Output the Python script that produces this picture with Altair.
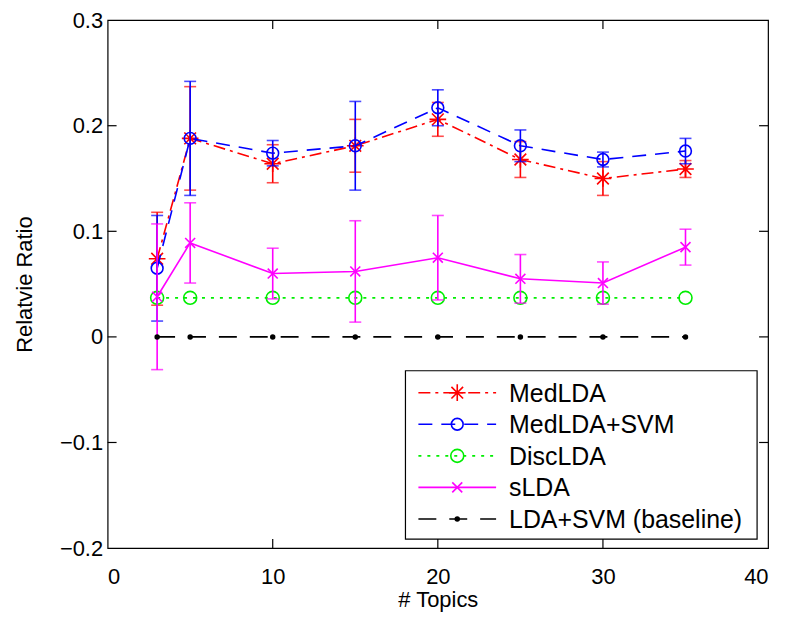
import altair as alt
import pandas as pd

topics = [3, 5, 10, 15, 20, 25, 30, 35]

medlda = [0.074, 0.188, 0.164, 0.181, 0.206, 0.168, 0.150, 0.159]
medlda_err = [0.044, 0.049, 0.018, 0.025, 0.016, 0.017, 0.016, 0.008]

medlda_svm = [0.065, 0.188, 0.174, 0.181, 0.217, 0.181, 0.168, 0.176]
medlda_svm_err = [0.050, 0.054, 0.012, 0.042, 0.017, 0.015, 0.007, 0.012]

disclda = [0.037, 0.037, 0.037, 0.037, 0.037, 0.037, 0.037, 0.037]

slda = [0.038, 0.089, 0.060, 0.062, 0.075, 0.055, 0.051, 0.085]
slda_err = [0.069, 0.038, 0.024, 0.048, 0.040, 0.023, 0.020, 0.017]

baseline = [0, 0, 0, 0, 0, 0, 0, 0]

names = ["MedLDA", "MedLDA+SVM", "DiscLDA", "sLDA", "LDA+SVM (baseline)"]

x_ticks = [0, 10, 20, 30, 40]
y_ticks = [-0.2, -0.1, 0, 0.1, 0.2, 0.3]
x_inner_ticks = [10, 20, 30]
y_inner_ticks = [-0.1, 0, 0.1, 0.2]

W, H = 663, 530
FONT = "Liberation Sans"
TICK = 9
LW = 1.6

ASTER = "M-1,0L1,0M0,-1L0,1M-0.7,-0.7L0.7,0.7M-0.7,0.7L0.7,-0.7"
XSHAPE = "M-1,-1L1,1M-1,1L1,-1"

series = [
    dict(name=names[0], y=medlda, err=medlda_err, color="#ff0000", dash=[12, 5, 3, 5],
         shape=ASTER, filled=False, size=280),
    dict(name=names[1], y=medlda_svm, err=medlda_svm_err, color="#0000ff", dash=[14, 9],
         shape="circle", filled=False, size=140),
    dict(name=names[2], y=disclda, err=None, color="#00ee00", dash=[3, 6],
         shape="circle", filled=False, size=170),
    dict(name=names[3], y=slda, err=slda_err, color="#ff00ff", dash=None,
         shape=XSHAPE, filled=False, size=100),
    dict(name=names[4], y=baseline, err=None, color="#000000", dash=[18, 13],
         shape="circle", filled=True, size=30),
]

xscale = alt.Scale(domain=[0, 40], nice=False, zero=False)
yscale = alt.Scale(domain=[-0.2, 0.3], nice=False, zero=False)


def X(field="x", axis=None):
    return alt.X(f"{field}:Q", scale=xscale, axis=axis)


def Y(field="y", axis=None):
    return alt.Y(f"{field}:Q", scale=yscale, axis=axis)


layers = []
for s in series:
    d = {"x": topics, "y": s["y"]}
    if s["err"] is not None:
        d["lo"] = [v - e for v, e in zip(s["y"], s["err"])]
        d["hi"] = [v + e for v, e in zip(s["y"], s["err"])]
    df = pd.DataFrame(d)
    lkw = dict(color=s["color"], strokeWidth=LW)
    if s["dash"]:
        lkw["strokeDash"] = s["dash"]
    layers.append(alt.Chart(df).mark_line(**lkw).encode(x=X(), y=Y()))
    if s["err"] is not None:
        layers.append(alt.Chart(df).mark_rule(color=s["color"], strokeWidth=LW).encode(
            x=X(), y=Y("lo"), y2="hi:Q"))
        for f in ["lo", "hi"]:
            layers.append(alt.Chart(df).mark_tick(orient="horizontal", size=12, thickness=LW,
                                                  color=s["color"]).encode(x=X(), y=Y(f)))
    layers.append(alt.Chart(df).mark_point(shape=s["shape"], size=s["size"], filled=s["filled"],
                                           color=s["color"], strokeWidth=LW, opacity=1).encode(
        x=X(), y=Y()))

# inward tick marks (MATLAB style box)
xt = pd.DataFrame({"t": x_inner_ticks})
yt = pd.DataFrame({"t": y_inner_ticks})
tick_layers = [
    alt.Chart(xt).mark_rule(color="black", strokeWidth=1.2).encode(
        x=X("t"), y=alt.value(H), y2=alt.value(H - TICK)),
    alt.Chart(xt).mark_rule(color="black", strokeWidth=1.2).encode(
        x=X("t"), y=alt.value(0), y2=alt.value(TICK)),
    alt.Chart(yt).mark_rule(color="black", strokeWidth=1.2).encode(
        y=Y("t"), x=alt.value(0), x2=alt.value(TICK)),
    alt.Chart(yt).mark_rule(color="black", strokeWidth=1.2).encode(
        y=Y("t"), x=alt.value(W), x2=alt.value(W - TICK)),
]

# axis labels layer
axis_df = pd.DataFrame({"x": topics, "y": medlda})
label_axes = alt.Chart(axis_df).mark_point(opacity=0).encode(
    x=X(axis=alt.Axis(orient="bottom", values=x_ticks, format="d", ticks=False, domain=False,
                      grid=False, labelPadding=19, title="# Topics", titlePadding=2)),
    y=Y(axis=alt.Axis(orient="left", values=y_ticks, format=".1~f", ticks=False, domain=False,
                      grid=False, labelPadding=5, title="Relatvie Ratio", titlePadding=23)),
)

# manual legend (pixel positions inside the plot area)
one = pd.DataFrame({"a": [0]})
LX0, LX1, LY0, LY1 = 299, 652, 352, 521
legend_layers = [
    alt.Chart(one).mark_rect(fill="white", stroke="black", strokeWidth=1.2).encode(
        x=alt.value(LX0), x2=alt.value(LX1), y=alt.value(LY0), y2=alt.value(LY1))
]
for i, s in enumerate(series):
    ry = 374 + i * 31.7
    rkw = dict(color=s["color"], strokeWidth=LW)
    if s["dash"]:
        rkw["strokeDash"] = s["dash"]
    legend_layers.append(alt.Chart(one).mark_rule(**rkw).encode(
        x=alt.value(312), x2=alt.value(390), y=alt.value(ry)))
    legend_layers.append(alt.Chart(one).mark_point(shape=s["shape"], size=s["size"],
                                                   filled=s["filled"], color=s["color"],
                                                   strokeWidth=LW, opacity=1).encode(
        x=alt.value(351), y=alt.value(ry)))
    legend_layers.append(alt.Chart(one).mark_text(align="left", baseline="middle", font=FONT,
                                                  fontSize=25, color="black", text=s["name"]).encode(
        x=alt.value(403), y=alt.value(ry + 1)))

chart = alt.layer(*layers, *tick_layers, label_axes, *legend_layers).resolve_axis(
    x="independent", y="independent"
).properties(
    width=W, height=H,
    autosize=alt.AutoSizeParams(type="none"),
    padding={"left": 100, "top": 11, "right": 12, "bottom": 64},
).configure_view(stroke="black", strokeWidth=1.2).configure_axis(
    labelFont=FONT, titleFont=FONT, labelFontSize=22, titleFontSize=22, labelColor="black",
    titleColor="black", titleFontWeight="normal", tickColor="black", tickWidth=1.2,
)

chart.save("out.html", embed_options={"renderer": "svg", "actions": False})
